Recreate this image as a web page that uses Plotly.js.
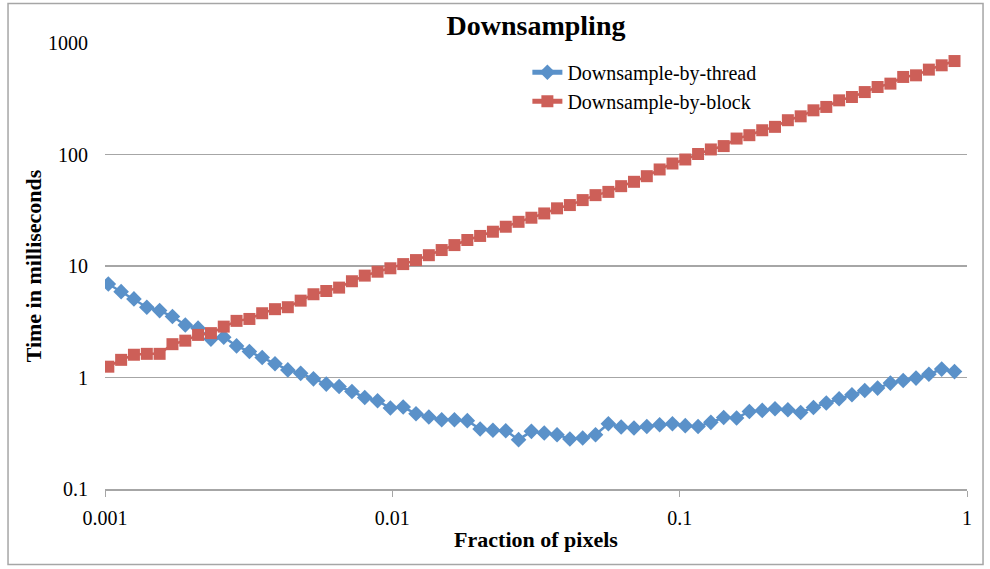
<!DOCTYPE html>
<html>
<head>
<meta charset="utf-8">
<script src="https://cdn.plot.ly/plotly-3.0.1.min.js"></script>
<style>
html,body{margin:0;padding:0;background:#fff;}
#chart{width:990px;height:569px;}
</style>
</head>
<body>
<div id="chart"></div>
<script>
// Fraction of pixels (x values)
var fraction = [0.001027,0.001138,0.001261,0.001398,0.001549,0.001717,0.001903,0.002108,0.002337,0.00259,
0.00287,0.003181,0.003524,0.003905,0.004328,0.004797,0.005315,0.00589,0.006528,0.007234,
0.008017,0.008884,0.009845,0.01091,0.01209,0.0134,0.01485,0.01645,0.01824,0.02021,
0.02239,0.02482,0.0275,0.03048,0.03378,0.03743,0.04148,0.04597,0.05096,0.05647,
0.06257,0.06934,0.07685,0.08517,0.09438,0.1046,0.1159,0.1284,0.1423,0.1578,
0.1748,0.1938,0.2147,0.238,0.2637,0.2922,0.3238,0.3589,0.3977,0.4407,
0.4885,0.5413,0.5998,0.6647,0.7367,0.8164,0.9047];

// Downsample-by-thread times (ms)
var byThread = [6.90,5.89,5.07,4.27,3.98,3.52,2.96,2.77,2.21,2.30,
1.92,1.71,1.51,1.33,1.17,1.09,0.973,0.873,0.830,0.749,
0.662,0.618,0.532,0.543,0.473,0.442,0.418,0.418,0.410,0.345,
0.336,0.333,0.277,0.329,0.318,0.307,0.281,0.287,0.307,0.385,
0.360,0.352,0.364,0.377,0.385,0.370,0.364,0.396,0.438,0.433,
0.496,0.507,0.525,0.514,0.486,0.539,0.590,0.644,0.700,0.765,
0.803,0.891,0.940,0.988,1.07,1.19,1.13];

// Downsample-by-block times (ms)
var byBlock = [1.25,1.44,1.60,1.63,1.63,1.99,2.14,2.41,2.50,2.86,
3.22,3.35,3.77,4.10,4.27,4.89,5.58,5.97,6.4,7.3,
8.2,8.89,9.54,10.4,11.3,12.5,13.9,15.4,17.1,18.6,
20.3,22.5,24.9,27.1,29.6,32.9,35.2,39.0,43.2,46.2,
52.0,56.9,63.9,73.4,83.0,90.2,101,111,119,139,
149,165,177,203,220,249,267,306,328,363,
403,432,496,513,577,631,689];

var seriesNames = ['Downsample-by-thread','Downsample-by-block'];
var xTickVals = [0.001,0.01,0.1,1];
var xTickText = ['0.001','0.01','0.1','1'];
var yTickVals = [0.1,1,10,100,1000];
var yTickText = ['0.1','1','10','100','1000'];

var BLUE = '#5a91c9', RED = '#cd5f58';
var serif = '"Liberation Serif", "Times New Roman", serif';

var traces = [
  {x: fraction, y: byThread, name: seriesNames[0], type: 'scatter', mode: 'lines+markers',
   line: {color: BLUE, width: 2.5}, marker: {symbol: 'diamond', size: 12, color: BLUE}},
  {x: fraction, y: byBlock, name: seriesNames[1], type: 'scatter', mode: 'lines+markers',
   line: {color: RED, width: 2.5}, marker: {symbol: 'square', size: 12, color: RED}}
];

var layout = {
  width: 990, height: 569,
  margin: {l: 105, r: 23, t: 43, b: 80},
  paper_bgcolor: '#fff', plot_bgcolor: '#fff',
  font: {family: serif, size: 20, color: '#000'},
  title: {text: '<b>Downsampling</b>', font: {family: serif, size: 28, color: '#000'},
          x: 0.5, xref: 'paper', y: 0.955, yanchor: 'middle'},
  xaxis: {type: 'log', range: [-3, 0], tickvals: xTickVals, ticktext: xTickText,
          showgrid: false, zeroline: false, showline: true, linecolor: '#a6a6a6', linewidth: 2,
          ticks: 'outside', ticklen: 6, tickcolor: '#a6a6a6', tickwidth: 1,
          tickfont: {family: serif, size: 20}, ticklabelstandoff: 4,
          title: {text: '<b>Fraction of pixels</b>', font: {family: serif, size: 22}, standoff: 4}},
  yaxis: {type: 'log', range: [-1, 3], tickvals: yTickVals, ticktext: yTickText,
          showgrid: true, gridcolor: '#a6a6a6', gridwidth: 1.5, zeroline: false, showline: false,
          ticks: '', tickfont: {family: serif, size: 20}, ticklabelstandoff: 16,
          title: {text: '<b>Time in milliseconds</b>', font: {family: serif, size: 22}, standoff: 0}},
  legend: {x: 0.49, y: 0.978, xanchor: 'left', yanchor: 'top', bgcolor: 'rgba(0,0,0,0)',
           font: {family: serif, size: 20}, tracegroupgap: 0, itemsizing: 'constant'},
  showlegend: true,
  shapes: [{type: 'rect', xref: 'paper', yref: 'paper',
            x0: -0.1125, x1: 1.0186, y0: -0.1692, y1: 1.0886,
            line: {color: '#a6a6a6', width: 1.5}, fillcolor: 'rgba(0,0,0,0)', layer: 'below'}]
};

Plotly.newPlot('chart', traces, layout, {displayModeBar: false, staticPlot: true});
</script>
</body>
</html>
